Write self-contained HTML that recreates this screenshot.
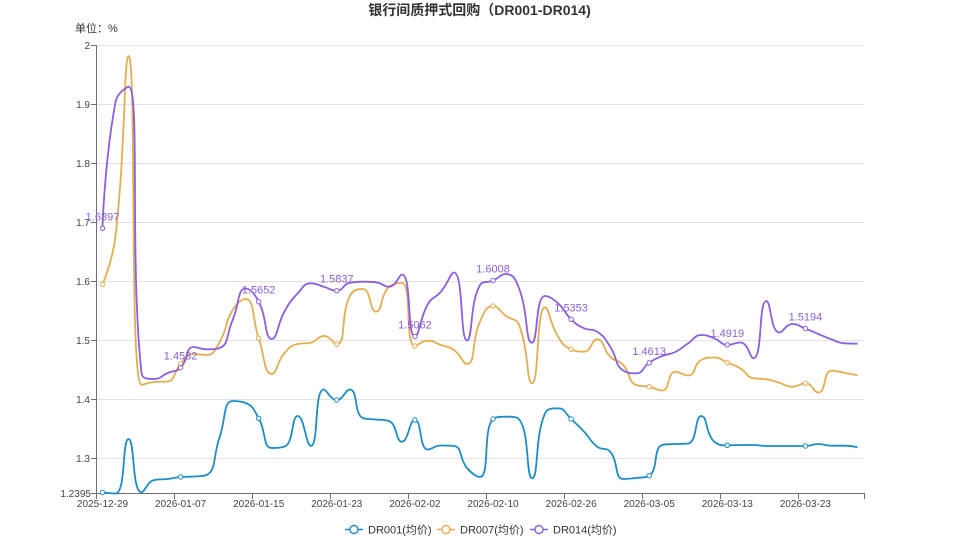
<!DOCTYPE html>
<html>
<head>
<meta charset="utf-8">
<style>
  html,body{margin:0;padding:0;background:#fff;}
  body{width:959px;height:539px;overflow:hidden;}
  svg{display:block;}
  text{font-family:"Liberation Sans","Noto Sans CJK SC",sans-serif;}
</style>
</head>
<body>
<svg id="chart" width="959" height="539" viewBox="0 0 959 539" xmlns="http://www.w3.org/2000/svg">
  <rect x="0" y="0" width="959" height="539" fill="#ffffff"/>
  <!-- title -->
  <text x="479.5" y="15" text-anchor="middle" font-size="14" font-weight="bold" fill="#333">银行间质押式回购（DR001-DR014)</text>
  <text x="75" y="32" font-size="11" fill="#333">单位：%</text>

  <!-- grid lines -->
  <g stroke="#e3e3e3" stroke-width="1">
    <line x1="96" y1="45.5" x2="864" y2="45.5"/>
    <line x1="96" y1="104.5" x2="864" y2="104.5"/>
    <line x1="96" y1="163.5" x2="864" y2="163.5"/>
    <line x1="96" y1="222.5" x2="864" y2="222.5"/>
    <line x1="96" y1="281.5" x2="864" y2="281.5"/>
    <line x1="96" y1="340.5" x2="864" y2="340.5"/>
    <line x1="96" y1="399.5" x2="864" y2="399.5"/>
    <line x1="96" y1="458.5" x2="864" y2="458.5"/>
  </g>

  <!-- y axis -->
  <g stroke="#6e7079" stroke-width="1">
    <line x1="96.5" y1="45" x2="96.5" y2="494"/>
    <line x1="91" y1="45.5" x2="96" y2="45.5"/>
    <line x1="91" y1="104.5" x2="96" y2="104.5"/>
    <line x1="91" y1="163.5" x2="96" y2="163.5"/>
    <line x1="91" y1="222.5" x2="96" y2="222.5"/>
    <line x1="91" y1="281.5" x2="96" y2="281.5"/>
    <line x1="91" y1="340.5" x2="96" y2="340.5"/>
    <line x1="91" y1="399.5" x2="96" y2="399.5"/>
    <line x1="91" y1="458.5" x2="96" y2="458.5"/>
    <line x1="91" y1="493.5" x2="96" y2="493.5"/>
  </g>
  <g font-size="10" fill="#444" text-anchor="end">
    <text x="90" y="49">2</text>
    <text x="90" y="108">1.9</text>
    <text x="90" y="167">1.8</text>
    <text x="90" y="226">1.7</text>
    <text x="90" y="285">1.6</text>
    <text x="90" y="344">1.5</text>
    <text x="90" y="403">1.4</text>
    <text x="90" y="462">1.3</text>
    <text x="91" y="497">1.2395</text>
  </g>

  <!-- x axis -->
  <g stroke="#6e7079" stroke-width="1">
    <line x1="96" y1="493.5" x2="864.5" y2="493.5"/>
    <line x1="96.5" y1="493" x2="96.5" y2="499"/>
    <line x1="174.5" y1="493" x2="174.5" y2="499"/>
    <line x1="252.5" y1="493" x2="252.5" y2="499"/>
    <line x1="330.5" y1="493" x2="330.5" y2="499"/>
    <line x1="408.5" y1="493" x2="408.5" y2="499"/>
    <line x1="486.5" y1="493" x2="486.5" y2="499"/>
    <line x1="564.5" y1="493" x2="564.5" y2="499"/>
    <line x1="642.5" y1="493" x2="642.5" y2="499"/>
    <line x1="720.5" y1="493" x2="720.5" y2="499"/>
    <line x1="798.5" y1="493" x2="798.5" y2="499"/>
    <line x1="864.5" y1="493" x2="864.5" y2="499"/>
  </g>
  <g font-size="10" fill="#444" text-anchor="middle">
    <text x="102.5" y="507">2025-12-29</text>
    <text x="180.6" y="507">2026-01-07</text>
    <text x="258.7" y="507">2026-01-15</text>
    <text x="336.8" y="507">2026-01-23</text>
    <text x="414.9" y="507">2026-02-02</text>
    <text x="493.0" y="507">2026-02-10</text>
    <text x="571.1" y="507">2026-02-26</text>
    <text x="649.2" y="507">2026-03-05</text>
    <text x="727.3" y="507">2026-03-13</text>
    <text x="805.4" y="507">2026-03-23</text>
  </g>

  <!-- series containers -->
  <g id="series"></g>

  <!-- DR014 labels -->
  <g font-size="11" fill="#8a5fe3" text-anchor="middle">
    <text x="102.5" y="220.3">1.6897</text>
    <text x="180.6" y="359.7">1.4532</text>
    <text x="258.7" y="293.7">1.5652</text>
    <text x="336.8" y="282.7">1.5837</text>
    <text x="414.9" y="328.5">1.5062</text>
    <text x="493.0" y="272.6">1.6008</text>
    <text x="571.1" y="311.3">1.5353</text>
    <text x="649.2" y="354.8">1.4613</text>
    <text x="727.3" y="336.8">1.4919</text>
    <text x="805.4" y="320.6">1.5194</text>
  </g>

  <!-- legend -->
  <g>
    <line x1="345" y1="529.5" x2="363" y2="529.5" stroke="#1c8dc8" stroke-width="1.6"/>
    <circle cx="354" cy="529.5" r="4" fill="#fff" stroke="#1c8dc8" stroke-width="1.4"/>
    <text x="368" y="533.5" font-size="11" fill="#333">DR001(均价)</text>

    <line x1="437" y1="529.5" x2="455" y2="529.5" stroke="#e6ad4f" stroke-width="1.6"/>
    <circle cx="446" cy="529.5" r="4" fill="#fff" stroke="#e6ad4f" stroke-width="1.4"/>
    <text x="460" y="533.5" font-size="11" fill="#333">DR007(均价)</text>

    <line x1="530" y1="529.5" x2="548" y2="529.5" stroke="#8a5fe3" stroke-width="1.6"/>
    <circle cx="539" cy="529.5" r="4" fill="#fff" stroke="#8a5fe3" stroke-width="1.4"/>
    <text x="553" y="533.5" font-size="11" fill="#333">DR014(均价)</text>
  </g>
</svg>
<script>
(function(){
  var NS = "http://www.w3.org/2000/svg";
  function X(i){ return 102.5 + 13.017*i; }
  var B = [492.5,493.5,439,492.3,480,479,477,476.5,475,437,401,403,418.3,448,446.5,416,446,389.5,400,389.5,418,419.5,421,441.7,420,449.5,445.5,446,468,477,419,416.7,419.3,478.3,413.3,408.3,419,431.7,446.7,451.7,479,478,475.7,445,444,443.5,416,441.7,445.3,445,445,446,446,446,446,444,445.7,445.7,447.3];
  var O = [284.3,236,56,385,382,381.5,364,354,355,342,310,299,338.3,374,352.7,344,342.7,336,344.3,296,289,311.7,287,283,346,340.7,345,350,364,321.7,306,316,325,383.3,307.3,336.7,349.3,351.7,339.3,356.7,365,385,386.7,390.5,371.7,375.5,360,357.5,362.7,368.3,378.3,379.3,382.7,386.7,383.3,392.5,370.7,372.7,375.3];
  var P = [228.3,102,86.7,373.3,379,373,367.7,347,349.3,348,320,288.5,301.7,339,311,293.3,283.3,286.7,290.7,282.7,281.7,282.3,286.7,274.5,336.5,304,291.7,272.5,340.5,285,280.6,274,288.3,342.7,296,303.3,319.3,328.3,331.7,346.7,370.5,373.3,362.8,356,352,343.3,335,338.3,344.8,342.5,358.3,301,332.5,324,328.6,334,339.3,343.3,343.7];

  function smoothPath(ys, smooth){
    var pts = ys.map(function(y,i){return [X(i), y];});
    var n = pts.length;
    var d = "M" + pts[0][0].toFixed(2) + "," + pts[0][1].toFixed(2);
    var cpx0 = pts[0][0], cpy0 = pts[0][1];
    for (var i=1;i<n;i++){
      var x = pts[i][0], y = pts[i][1], px = pts[i-1][0], py = pts[i-1][1];
      var cpx1, cpy1, ncx, ncy;
      if (i === n-1){ cpx1 = x; cpy1 = y; ncx = x; ncy = y; }
      else {
        var nx = pts[i+1][0], ny = pts[i+1][1];
        var vx = nx-px, vy = ny-py;
        var l0 = Math.hypot(x-px, y-py), l1 = Math.hypot(nx-x, ny-y);
        var r = l1/(l1+l0);
        ncx = x + vx*smooth*r; ncy = y + vy*smooth*r;
        ncx = Math.min(ncx, Math.max(nx,x)); ncy = Math.min(ncy, Math.max(ny,y));
        ncx = Math.max(ncx, Math.min(nx,x)); ncy = Math.max(ncy, Math.min(ny,y));
        vx = ncx - x; vy = ncy - y;
        cpx1 = x - vx*l0/l1; cpy1 = y - vy*l0/l1;
        cpx1 = Math.min(cpx1, Math.max(px,x)); cpy1 = Math.min(cpy1, Math.max(py,y));
        cpx1 = Math.max(cpx1, Math.min(px,x)); cpy1 = Math.max(cpy1, Math.min(py,y));
        vx = x - cpx1; vy = y - cpy1;
        ncx = x + vx*l1/l0; ncy = y + vy*l1/l0;
      }
      d += "C" + cpx0.toFixed(2) + "," + cpy0.toFixed(2) + "," + cpx1.toFixed(2) + "," + cpy1.toFixed(2) + "," + x.toFixed(2) + "," + y.toFixed(2);
      cpx0 = ncx; cpy0 = ncy;
    }
    return d;
  }

  var g = document.getElementById("series");
  var series = [[B,"#1c8dc8"],[O,"#e6ad4f"],[P,"#8a5fe3"]];
  series.forEach(function(s){
    var path = document.createElementNS(NS,"path");
    path.setAttribute("d", smoothPath(s[0], 0.5));
    path.setAttribute("fill","none");
    path.setAttribute("stroke", s[1]);
    path.setAttribute("stroke-width","1.8");
    path.setAttribute("stroke-linejoin","round");
    g.appendChild(path);
    for (var i=0;i<s[0].length;i+=6){
      var c = document.createElementNS(NS,"circle");
      c.setAttribute("cx", X(i).toFixed(2));
      c.setAttribute("cy", s[0][i]);
      c.setAttribute("r","2.2");
      c.setAttribute("fill","#fff");
      c.setAttribute("stroke", s[1]);
      c.setAttribute("stroke-width","1");
      g.appendChild(c);
    }
  });
})();
</script>
</body>
</html>
